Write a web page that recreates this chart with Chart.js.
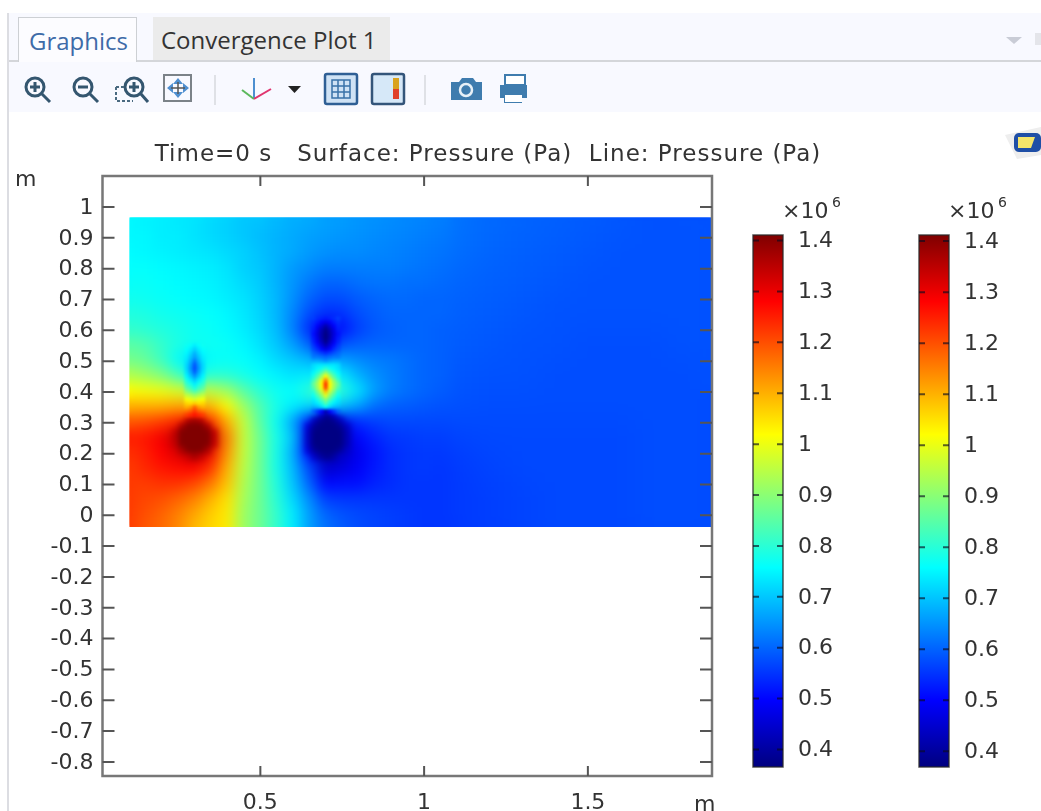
<!DOCTYPE html>
<html>
<head>
<meta charset="utf-8">
<title>Pressure</title>
<script src="https://cdn.jsdelivr.net/npm/chart.js@4"></script>
<style>
  html, body { margin: 0; padding: 0; background: #fff; overflow: hidden; }
  #page { position: relative; width: 1041px; height: 811px; filter: blur(0.5px); font-family: "Open Sans", sans-serif; overflow: hidden; }
  #page > * { position: absolute; }
  #page canvas { position: absolute; top: 0; }
  .bar { top: 13px; left: 9px; width: 1032px; height: 99px; background: #f8f9ff; }
  .edge { top: 13px; left: 7px; width: 2px; height: 798px; background: #dcdde2; }
  .rule { top: 60px; left: 9px; width: 1032px; height: 2px; background: #d4d6da; }
  .tab { top: 17px; height: 43px; line-height: 45px; font-size: 24px; box-sizing: border-box; white-space: nowrap; }
  .tab.on { left: 18px; width: 119px; height: 45px; background: #fcfcff; border: 1px solid #cdd0d4; border-bottom: 0; color: #3e6ba8; padding-left: 10px; }
  .tab.off { left: 153px; width: 237px; background: #ebebeb; color: #333; padding-left: 8px; }
  .sep { top: 75px; width: 2px; height: 30px; background: #dfe1e6; }
</style>
</head>
<body>
<div id="page">
  <div class="bar"></div>
  <div class="edge"></div>
  <div class="rule"></div>
  <div class="tab on">Graphics</div>
  <div class="tab off">Convergence Plot 1</div>
  <div class="sep" style="left:214px"></div>
  <div class="sep" style="left:424px"></div>

  <svg style="left:0;top:0" width="1041" height="160" fill="none">
    <!-- zoom in / zoom out / zoom box / fit -->
    <g stroke="#34566f" stroke-width="3">
      <circle cx="35" cy="87" r="9"/><path d="M42 94l8 8M30 87h10M35 82v10" />
      <circle cx="83" cy="87" r="9"/><path d="M90 94l8 8M78 87h10" />
      <circle cx="134" cy="87" r="9"/><path d="M141 94l7 8M129 87h10M134 82v10" />
    </g>
    <path d="M116 87h8M116 87v14h17" stroke="#4a6a80" stroke-width="2" stroke-dasharray="3 2"/>
    <rect x="164" y="75" width="27" height="26" stroke="#7b8288" stroke-width="2"/>
    <path d="M178 78l-5 6h10zM178 98l-5-6h10zM167 88l6-5v10zM189 88l-6-5v10z" fill="#4f8fd0"/>
    <path d="M171 88h14M178 82v12" stroke="#555" stroke-width="1.5"/>
    <!-- axes -->
    <path d="M254 99V78" stroke="#4d8fd0" stroke-width="2"/><path d="M254 99l-12-9" stroke="#5cb85c" stroke-width="2"/><path d="M254 99l17-10" stroke="#e0356f" stroke-width="2"/>
    <path d="M288 86h13l-6.500 7z" fill="#222"/>
    <!-- grid and colour legend toggles -->
    <rect x="325" y="74" width="32" height="30" rx="2" fill="#cfe2f5" stroke="#2f5f95" stroke-width="2.500"/>
    <path d="M332 80h18v18h-18zM338 80v18M344 80v18M332 86h18M332 92h18" stroke="#3a72a8" stroke-width="1.500"/>
    <rect x="372" y="74" width="32" height="30" rx="2" fill="#d6e8f8" stroke="#34557a" stroke-width="2.500"/>
    <rect x="393" y="78" width="6" height="11" fill="#d9a21f"/><rect x="393" y="89" width="6" height="10" fill="#e0402a"/>
    <!-- camera, printer -->
    <path d="M451 82h8l3-4h11l3 4h6v18h-31z" fill="#3f7cae"/><circle cx="466" cy="90" r="6" fill="#3f7cae" stroke="#e7f0f7" stroke-width="2.500"/>
    <rect x="505" y="75" width="20" height="10" fill="#fff" stroke="#3f7cae" stroke-width="2"/>
    <path d="M500 85h27v13h-5v5h-18v-5h-4z" fill="#3f7cae"/><rect x="505" y="95" width="17" height="7" fill="#fff"/>
    <!-- tab list arrow -->
    <path d="M1006 37h16l-8 7z" fill="#c9ccd6"/><path d="M1035 33h6v12h-6z" fill="#e4e5ea"/>
    <!-- app badge -->
    <path d="M1005 135l36-8v28l-24 4z" fill="#eeeeee"/>
    <rect x="1014" y="133" width="27" height="19" rx="5" fill="#1f4fa6"/><path d="M1018 137h17l-4 11h-13z" fill="#f5e56a"/>
  </svg>

  <canvas id="fieldChart" style="left:0" width="976" height="811"></canvas>
  <canvas id="barOne" style="left:740px" width="150" height="811"></canvas>
  <canvas id="barTwo" style="left:906px" width="150" height="811"></canvas>
</div>

<script>
const titleText = 'Time=0 s   Surface: Pressure (Pa)  Line: Pressure (Pa)';
const xTicks = [0.5, 1, 1.5];
const yTicks = [1, 0.9, 0.8, 0.7, 0.6, 0.5, 0.4, 0.3, 0.2, 0.1, 0, -0.1, -0.2, -0.3, -0.4, -0.5, -0.6, -0.7, -0.8];
const colorTicks = [1.4, 1.3, 1.2, 1.1, 1, 0.9, 0.8, 0.7, 0.6, 0.5, 0.4];
const pressureRange = [0.3655, 1.411];

// pressure, x10^6 Pa. far = right part, near = left part
const farX = [1.0, 1.1, 1.2, 1.3, 1.4, 1.5, 1.6, 1.7, 1.8, 1.9];
const farY = [0.95, 0.85, 0.75, 0.65, 0.55, 0.45, 0.35, 0.25, 0.15, 0.05, -0.05];
const farValues = [
  [.625, .615, .605, .60, .595, .59, .585, .58, .58, .58],
  [.615, .61, .60, .595, .59, .585, .58, .58, .58, .58],
  [.605, .60, .595, .59, .585, .58, .58, .58, .58, .58],
  [.60, .595, .59, .585, .58, .58, .58, .58, .58, .58],
  [.595, .59, .585, .58, .58, .575, .575, .575, .58, .58],
  [.59, .585, .58, .58, .575, .575, .575, .575, .575, .58],
  [.58, .58, .575, .575, .575, .575, .575, .575, .575, .575],
  [.56, .565, .57, .57, .57, .57, .57, .575, .575, .575],
  [.55, .555, .565, .57, .57, .57, .57, .575, .575, .575],
  [.55, .555, .56, .565, .57, .57, .57, .575, .575, .575],
  [.55, .555, .56, .565, .57, .57, .57, .575, .575, .575]
];

const nearX = [.10, .15, .20, .25, .30, .35, .40, .45, .50, .55, .60, .65, .70, .75, .80, .85, .90, .95, 1.0, 1.05];
const nearY = [.95, .90, .85, .80, .75, .70, .65, .60, .55, .50, .45, .40, .35, .30, .25, .20, .15, .10, .05, 0, -.05];
const nearValues = [
  [.75, .745, .74, .735, .73, .72, .71, .70, .695, .685, .675, .67, .66, .655, .65, .645, .64, .635, .63, .625],
  [.75, .75, .74, .74, .73, .72, .71, .70, .69, .68, .67, .66, .655, .65, .645, .64, .635, .63, .625, .62],
  [.755, .75, .745, .74, .735, .73, .72, .71, .695, .68, .67, .655, .645, .64, .64, .635, .63, .625, .62, .615],
  [.76, .76, .755, .75, .745, .74, .73, .71, .70, .68, .655, .64, .625, .625, .625, .625, .625, .62, .615, .61],
  [.765, .765, .76, .755, .75, .745, .735, .72, .705, .68, .65, .62, .60, .60, .61, .615, .615, .61, .61, .605],
  [.775, .77, .765, .76, .755, .75, .74, .73, .71, .685, .645, .60, .575, .575, .59, .60, .605, .605, .60, .60],
  [.79, .785, .775, .77, .765, .76, .75, .735, .715, .685, .635, .575, .54, .545, .575, .59, .60, .60, .60, .60],
  [.81, .80, .79, .78, .77, .765, .755, .74, .72, .69, .63, .54, .46, .51, .56, .585, .595, .60, .60, .595],
  [.85, .84, .81, .785, .77, .77, .765, .75, .73, .70, .66, .60, .47, .58, .595, .60, .60, .60, .60, .595],
  [.88, .86, .82, .76, .72, .76, .765, .76, .745, .72, .70, .68, .66, .66, .64, .625, .62, .61, .60, .595],
  [.94, .92, .89, .83, .76, .80, .80, .78, .76, .745, .73, .74, .73, .74, .68, .645, .625, .61, .60, .595],
  [1.02, 1.01, 1.00, .98, .96, .95, .92, .85, .80, .77, .76, .80, .88, .80, .73, .66, .625, .61, .60, .59],
  [1.10, 1.10, 1.10, 1.11, 1.10, 1.09, 1.02, .92, .84, .78, .74, .72, .72, .70, .66, .61, .595, .59, .585, .58],
  [1.19, 1.20, 1.22, 1.25, 1.30, 1.24, 1.10, .96, .85, .77, .67, .52, .42, .47, .54, .56, .57, .57, .57, .57],
  [1.25, 1.26, 1.29, 1.36, 1.41, 1.35, 1.15, .96, .87, .78, .70, .47, .37, .42, .50, .53, .55, .555, .56, .56],
  [1.23, 1.25, 1.28, 1.32, 1.37, 1.30, 1.13, .96, .87, .78, .68, .50, .41, .43, .48, .515, .54, .55, .555, .555],
  [1.22, 1.24, 1.26, 1.27, 1.28, 1.23, 1.10, .95, .87, .78, .69, .57, .44, .46, .49, .52, .54, .55, .555, .55],
  [1.22, 1.22, 1.23, 1.23, 1.21, 1.16, 1.08, .94, .87, .79, .70, .60, .50, .51, .51, .53, .54, .55, .55, .55],
  [1.22, 1.21, 1.20, 1.18, 1.15, 1.10, 1.05, .93, .87, .80, .72, .64, .56, .55, .55, .55, .55, .55, .55, .55],
  [1.22, 1.20, 1.18, 1.15, 1.11, 1.07, 1.04, .92, .87, .81, .74, .66, .60, .58, .57, .565, .56, .555, .55, .55],
  [1.22, 1.19, 1.17, 1.14, 1.09, 1.06, 1.04, .92, .87, .81, .74, .66, .615, .59, .575, .565, .56, .555, .55, .55]
];

// the two round spots
const hotDiscX = [.24, .26, .28, .30, .32, .34, .36];
const hotDiscY = [.31, .29, .27, .25, .23, .21, .19];
const hotDiscValues = [
  [null, null, 1.34, 1.37, 1.34, null, null],
  [null, 1.36, 1.41, 1.41, 1.41, 1.36, null],
  [1.34, 1.41, 1.41, 1.41, 1.41, 1.41, 1.34],
  [1.35, 1.41, 1.41, 1.41, 1.41, 1.41, 1.35],
  [1.34, 1.41, 1.41, 1.41, 1.41, 1.41, 1.34],
  [null, 1.36, 1.41, 1.41, 1.41, 1.36, null],
  [null, null, 1.34, 1.37, 1.34, null, null]
];
const coldDiscX = [.645, .665, .685, .705, .725, .745, .765];
const coldDiscY = [.33, .31, .29, .27, .25, .23, .21, .19];
const coldDiscValues = [
  [null, null, .48, .40, .48, null, null],
  [null, .44, .39, .37, .39, .44, null],
  [.46, .39, .37, .37, .37, .39, .44],
  [.44, .37, .37, .37, .37, .37, .42],
  [.44, .37, .37, .37, .37, .37, .42],
  [.44, .37, .37, .37, .37, .37, .42],
  [.46, .39, .37, .37, .37, .39, .44],
  [null, .44, .40, .38, .40, .44, null]
];

// thin spindles above the spots
const leftSpindleX = [.275, .2875, .30, .3125, .325];
const leftSpindleY = [.55, .5375, .525, .5125, .50, .4875, .475, .4625, .45, .4375, .425, .4125, .40, .3875, .375, .3625, .35, .3375, .325];
const leftSpindleValues = [
  [.77, .76, .74, .76, .77],
  [.76, .74, .71, .74, .76],
  [.75, .72, .68, .72, .75],
  [.74, .70, .66, .70, .74],
  [.73, .68, .62, .68, .73],
  [.72, .66, .585, .66, .72],
  [.72, .65, .575, .65, .72],
  [.73, .67, .60, .67, .73],
  [.75, .70, .65, .70, .75],
  [.78, .74, .70, .74, .78],
  [.81, .78, .74, .78, .81],
  [.85, .82, .78, .82, .85],
  [.90, .87, .84, .87, .90],
  [.96, .94, .92, .94, .96],
  [1.01, 1.00, .98, 1.00, 1.01],
  [1.06, 1.05, 1.07, 1.05, 1.06],
  [1.10, 1.12, 1.18, 1.12, 1.10],
  [1.16, 1.18, 1.22, 1.18, 1.16],
  [1.22, 1.24, 1.26, 1.24, 1.22]
];
const rightSpindleX = [.6625, .675, .6875, .70, .7125, .725, .7375];
const rightSpindleY = [.6375, .625, .6125, .60, .5875, .575, .5625, .55, .5375, .525, .5125, .50, .4875, .475, .4625, .45, .4375, .425, .4125, .40, .3875, .375, .3625, .35, .3375];
const rightSpindleValues = [
  [.56, .54, .53, .52, .53, .54, .56],
  [.54, .52, .49, .47, .49, .52, .54],
  [.53, .49, .45, .41, .45, .49, .53],
  [.52, .47, .42, .38, .42, .47, .52],
  [.51, .46, .41, .37, .41, .46, .51],
  [.52, .47, .41, .37, .41, .47, .52],
  [.53, .48, .43, .38, .43, .48, .53],
  [.55, .51, .46, .42, .46, .51, .55],
  [.57, .54, .50, .47, .50, .54, .57],
  [.60, .58, .56, .54, .56, .58, .60],
  [.62, .62, .61, .60, .61, .62, .62],
  [.67, .67, .66, .64, .66, .67, .67],
  [.72, .73, .73, .73, .73, .73, .72],
  [.73, .75, .77, .80, .77, .75, .73],
  [.75, .79, .84, .90, .84, .79, .75],
  [.78, .84, .92, 1.02, .92, .84, .78],
  [.82, .90, 1.00, 1.15, 1.00, .90, .82],
  [.86, .93, 1.02, 1.24, 1.02, .93, .86],
  [.84, .92, 1.01, 1.22, 1.01, .92, .84],
  [.80, .88, .96, 1.08, .96, .88, .80],
  [.77, .83, .90, .99, .90, .83, .77],
  [.74, .78, .84, .90, .84, .78, .74],
  [.72, .74, .78, .84, .78, .74, .72],
  [.68, .69, .72, .76, .72, .69, .68],
  [.60, .55, .50, .42, .50, .55, .60]
];

const fieldBox = { left: 0.1, top: 0.967, bottom: -0.038 };
const fontFamily = '"DejaVu Sans", sans-serif';
const inkColor = '#333';
const frameColor = '#777';

// jet colour table, position 0..1 along the pressure range
const jetStops = [
  [0, '#00007f'], [0.125, '#0000ff'], [0.375, '#00ffff'], [0.625, '#ffff00'], [0.875, '#ff0000'], [1, '#7f0000']
];

function jetColor(value) {
  const t = Math.min(1, Math.max(0, (value - pressureRange[0]) / (pressureRange[1] - pressureRange[0])));
  let i = 0;
  while (i < jetStops.length - 2 && t > jetStops[i + 1][0]) i++;
  const a = jetStops[i], b = jetStops[i + 1];
  const f = (t - a[0]) / (b[0] - a[0]);
  const c = [1, 3, 5].map(k => {
    const p = parseInt(a[1].substr(k, 2), 16), q = parseInt(b[1].substr(k, 2), 16);
    return Math.round(p + (q - p) * f);
  });
  return 'rgb(' + c.join(',') + ')';
}

function gridPoints(xs, ys, rows) {
  const points = [];
  ys.forEach((y, r) => xs.forEach((x, c) => {
    if (rows[r][c] !== null) points.push({ x: x, y: y, v: rows[r][c] });
  }));
  return points;
}

function cellDataset(label, points, step, blur) {
  return {
    label: label,
    data: points,
    fieldBlur: blur,
    pointStyle: 'rect',
    borderWidth: 0,
    backgroundColor: c => jetColor(c.raw.v),
    // cell side follows the x scale
    pointRadius: c => {
      const sx = c.chart.scales.x;
      return Math.abs(sx.getPixelForValue(step) - sx.getPixelForValue(0)) * 1.1 / Math.SQRT2;
    }
  };
}

// tick labels sit a little low in the reference
function nudgeLabels(scale, dy) {
  if (scale.nudged) return;
  scale.nudged = true;
  const draw = scale.drawLabels;
  scale.drawLabels = function (area) {
    this.ctx.save();
    this.ctx.translate(0, dy);
    draw.call(this, area);
    this.ctx.restore();
  };
}

// soften what the datasets drew so far, only inside the field rectangle
const fieldSmoothing = {
  id: 'fieldSmoothing',
  afterDatasetDraw(chart, args) {
    const blur = chart.data.datasets[args.index].fieldBlur;
    if (!blur) return;
    const area = chart.chartArea, ctx = chart.ctx;
    const tmp = document.createElement('canvas');
    tmp.width = chart.canvas.width;
    tmp.height = chart.canvas.height;
    tmp.getContext('2d').drawImage(chart.canvas, 0, 0);
    const left = chart.scales.x.getPixelForValue(fieldBox.left);
    const top = chart.scales.y.getPixelForValue(fieldBox.top);
    const bottom = chart.scales.y.getPixelForValue(fieldBox.bottom);
    ctx.save();
    ctx.clearRect(area.left, area.top, area.width, area.height);
    ctx.beginPath();
    ctx.rect(left, top, area.right - left, bottom - top);
    ctx.clip();
    ctx.drawImage(tmp, 0, 0);
    ctx.filter = 'blur(' + blur + 'px)';
    ctx.drawImage(tmp, 0, 0);
    ctx.restore();
  }
};

// frame with inward ticks on the four sides, plus the two "m" unit labels
const plotFrame = {
  id: 'plotFrame',
  beforeDraw(chart) {
    // the title runs wider than plain DejaVu at this size
    const block = chart.titleBlock;
    if (block.spaced) return;
    block.spaced = true;
    const draw = block.draw;
    block.draw = function () {
      chart.ctx.letterSpacing = '1px';
      draw.call(this);
      chart.ctx.letterSpacing = '0px';
    };
  },
  afterDraw(chart) {
    const a = chart.chartArea, ctx = chart.ctx;
    ctx.save();
    ctx.strokeStyle = frameColor;
    ctx.lineWidth = 2.5;
    ctx.strokeRect(a.left, a.top, a.width, a.height);
    ctx.lineWidth = 2;
    ctx.strokeStyle = '#555';
    ctx.beginPath();
    yTicks.forEach(v => {
      const y = chart.scales.y.getPixelForValue(v);
      ctx.moveTo(a.left, y); ctx.lineTo(a.left + 12, y);
      ctx.moveTo(a.right, y); ctx.lineTo(a.right - 12, y);
    });
    xTicks.forEach(v => {
      const x = chart.scales.x.getPixelForValue(v);
      ctx.moveTo(x, a.top); ctx.lineTo(x, a.top + 10);
      ctx.moveTo(x, a.bottom); ctx.lineTo(x, a.bottom - 10);
    });
    ctx.stroke();
    ctx.fillStyle = inkColor;
    ctx.font = '22px ' + fontFamily;
    ctx.textBaseline = 'alphabetic';
    ctx.fillText('m', 15, 186);
    ctx.fillText('m', 694, 811);
    ctx.restore();
  }
};

new Chart(document.getElementById('fieldChart'), {
  type: 'scatter',
  data: {
    datasets: [
      cellDataset('spindles', gridPoints(leftSpindleX, leftSpindleY, leftSpindleValues).concat(gridPoints(rightSpindleX, rightSpindleY, rightSpindleValues)), 0.0125, 1.5),
      cellDataset('spots', gridPoints(hotDiscX, hotDiscY, hotDiscValues).concat(gridPoints(coldDiscX, coldDiscY, coldDiscValues)), 0.02, 2.5),
      cellDataset('near', gridPoints(nearX, nearY, nearValues), 0.05, 6.5),
      cellDataset('far', gridPoints(farX, farY, farValues), 0.1, 14)
    ]
  },
  options: {
    responsive: false,
    animation: false,
    events: [],
    plugins: {
      legend: { display: false },
      tooltip: { enabled: false },
      title: {
        display: true,
        text: titleText,
        color: inkColor,
        font: { family: fontFamily, size: 23, weight: 'normal' },
        padding: { top: 141, bottom: 7.4 }
      }
    },
    scales: {
      x: {
        type: 'linear', min: 0.018, max: 1.879,
        grid: { display: false, drawTicks: false },
        border: { display: false },
        afterFit: s => { s.height = 35; },
        afterBuildTicks: s => { s.ticks = xTicks.map(v => ({ value: v })); },
        ticks: { color: inkColor, padding: 14, maxRotation: 0, autoSkip: false, font: { family: fontFamily, size: 22 }, callback: v => String(v) }
      },
      y: {
        type: 'linear', min: -0.8456, max: 1.1005,
        grid: { display: false, drawTicks: false },
        border: { display: false },
        afterFit: s => { s.width = 102.5; nudgeLabels(s, 1); },
        afterBuildTicks: s => { s.ticks = yTicks.map(v => ({ value: v })); },
        ticks: { color: inkColor, padding: 9, autoSkip: false, font: { family: fontFamily, size: 22 }, callback: v => String(v) }
      },
      // empty axis, only reserves the room of the colour bars on the right
      side: {
        type: 'linear', position: 'right',
        grid: { display: false, drawTicks: false },
        border: { display: false },
        ticks: { display: false },
        afterFit: s => { s.width = 264; }
      }
    }
  },
  plugins: [fieldSmoothing, plotFrame]
});

// outline, short inner ticks and the x10^6 heading of a colour bar
const colorBarMarks = {
  id: 'colorBarMarks',
  afterDraw(chart) {
    const a = chart.chartArea, ctx = chart.ctx;
    ctx.save();
    ctx.strokeStyle = 'rgba(40,40,40,0.8)';
    ctx.lineWidth = 1.5;
    ctx.strokeRect(a.left, a.top, a.width, a.height);
    ctx.strokeStyle = 'rgba(10,10,30,0.65)';
    ctx.lineWidth = 2;
    ctx.beginPath();
    colorTicks.forEach(v => {
      const y = chart.scales.y.getPixelForValue(v);
      ctx.moveTo(a.left, y); ctx.lineTo(a.left + 6, y);
      ctx.moveTo(a.right, y); ctx.lineTo(a.right - 6, y);
    });
    ctx.stroke();
    ctx.fillStyle = inkColor;
    ctx.font = '22px ' + fontFamily;
    ctx.fillText('\u00d710', a.left + 29, 218);
    ctx.font = '14px ' + fontFamily;
    ctx.fillText('6', a.left + 79, 207);
    ctx.restore();
  }
};

function colorBar(id, range) {
  new Chart(document.getElementById(id), {
    type: 'bar',
    data: {
      labels: ['p'],
      datasets: [{
        data: [range],
        barPercentage: 1,
        categoryPercentage: 1,
        borderWidth: 0,
        backgroundColor: c => {
          const area = c.chart.chartArea;
          if (!area) return '#00f';
          const g = c.chart.ctx.createLinearGradient(0, area.bottom, 0, area.top);
          jetStops.forEach(s => g.addColorStop(s[0], s[1]));
          return g;
        }
      }]
    },
    options: {
      responsive: false,
      animation: false,
      events: [],
      layout: { padding: { left: 13, top: 235, bottom: 44 } },
      plugins: { legend: { display: false }, tooltip: { enabled: false } },
      scales: {
        x: { display: false },
        y: {
          position: 'right',
          min: range[0], max: range[1],
          grid: { display: false, drawTicks: false },
          border: { display: false },
          afterFit: s => { s.width = 107; nudgeLabels(s, 1); },
          afterBuildTicks: s => { s.ticks = colorTicks.map(v => ({ value: v })); },
          ticks: { color: inkColor, padding: 15, crossAlign: 'near', autoSkip: false, font: { family: fontFamily, size: 22 }, callback: v => String(v) }
        }
      }
    },
    plugins: [colorBarMarks]
  });
}

colorBar('barOne', [0.3655, 1.411]);
colorBar('barTwo', [0.369, 1.412]);
</script>
</body>
</html>
